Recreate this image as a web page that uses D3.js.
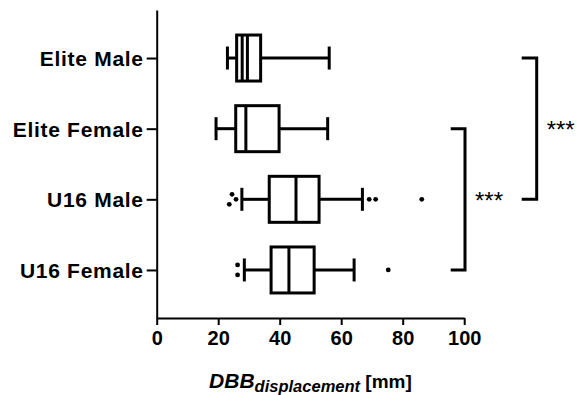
<!DOCTYPE html>
<html>
<head>
<meta charset="utf-8">
<script src="https://cdn.jsdelivr.net/npm/d3@7"></script>
<style>
  html, body { margin: 0; padding: 0; background: #fff; }
  svg { display: block; font-family: "Liberation Sans", Arial, sans-serif; }
</style>
</head>
<body>
<svg id="chart" width="577" height="395"></svg>
<script>
// ---- data ----
const categories   = ["Elite Male", "Elite Female", "U16 Male", "U16 Female"];
const whiskerLow   = [23.0, 19.3, 27.7, 28.5];
const q1           = [26.0, 25.7, 36.6, 37.2];
const medians      = [29.5, 29.0, 45.3, 43.0];
const extraLines   = [27.8, null, null, null];
const q3           = [33.8, 39.8, 52.8, 51.2];
const whiskerHigh  = [56.1, 55.6, 66.9, 64.2];
const outliers     = [[], [], [23.6, 24.5, 25.8, 69.1, 71.2, 86.2], [26.3, 26.3, 75.3]];
const xTicks       = [0, 20, 40, 60, 80, 100];
const compFrom     = ["Elite Male", "Elite Female"];
const compTo       = ["U16 Male", "U16 Female"];
const compLabels   = ["***", "***"];

// ---- layout ----
const svg = d3.select("#chart");
const x = d3.scaleLinear().domain([0, 100]).range([156.7, 464.2]);
const y = d3.scalePoint().domain(categories).range([10, 318]).padding(0.68);
const boxH = 46, capH = 23, sw = 3;

// axes
const xAxis = svg.append("g").attr("transform", "translate(0,318)")
  .call(d3.axisBottom(x).tickValues(xTicks).tickSize(7).tickSizeOuter(0).tickPadding(6));
xAxis.selectAll("path,line").attr("stroke", "#000").attr("stroke-width", 2);
xAxis.selectAll("text").attr("font-size", 20).attr("font-weight", "bold").attr("fill", "#000")
  .attr("font-family", "Liberation Sans, Arial, sans-serif");

const yAxis = svg.append("g").attr("transform", "translate(156.7,0)")
  .call(d3.axisLeft(y).tickSize(10).tickSizeOuter(0).tickPadding(3));
yAxis.selectAll("path,line").attr("stroke", "#000").attr("stroke-width", 2);
yAxis.selectAll("text").attr("font-size", 21).attr("font-weight", "bold").attr("fill", "#000")
  .attr("letter-spacing", 0.7).attr("dy", "0.36em")
  .attr("font-family", "Liberation Sans, Arial, sans-serif");

// boxes
const data = categories.map((c, i) => ({
  c, lo: whiskerLow[i], q1: q1[i], med: medians[i], extra: extraLines[i],
  q3: q3[i], hi: whiskerHigh[i], out: outliers[i]
}));

const g = svg.append("g").attr("stroke", "#000").attr("stroke-width", sw).attr("fill", "none");
data.forEach(d => {
  const cy = y(d.c);
  g.append("line").attr("x1", x(d.lo)).attr("x2", x(d.q1)).attr("y1", cy).attr("y2", cy);
  g.append("line").attr("x1", x(d.q3)).attr("x2", x(d.hi)).attr("y1", cy).attr("y2", cy);
  g.append("line").attr("x1", x(d.lo)).attr("x2", x(d.lo)).attr("y1", cy - capH / 2).attr("y2", cy + capH / 2);
  g.append("line").attr("x1", x(d.hi)).attr("x2", x(d.hi)).attr("y1", cy - capH / 2).attr("y2", cy + capH / 2);
  g.append("rect").attr("x", x(d.q1)).attr("y", cy - boxH / 2)
    .attr("width", x(d.q3) - x(d.q1)).attr("height", boxH).attr("fill", "#fff");
  g.append("line").attr("x1", x(d.med)).attr("x2", x(d.med)).attr("y1", cy - boxH / 2).attr("y2", cy + boxH / 2);
  if (d.extra != null) {
    g.append("line").attr("x1", x(d.extra)).attr("x2", x(d.extra)).attr("y1", cy - boxH / 2).attr("y2", cy + boxH / 2);
  }
  // outliers: collision-avoiding vertical spread
  const r = 2.4, minD = 6, step = 5;
  const placed = [];
  d.out.slice().sort((a, b) => b - a).forEach(v => {
    const px = x(v);
    const seq = [0, -step, step, -2 * step, 2 * step];
    for (const off of seq) {
      if (placed.every(p => Math.hypot(p.px - px, p.off - off) >= minD)) { placed.push({ px, off }); break; }
    }
  });
  const clusters = [];
  placed.sort((a, b) => a.px - b.px).forEach(p => {
    const last = clusters[clusters.length - 1];
    if (last && p.px - last[last.length - 1].px < minD) last.push(p); else clusters.push([p]);
  });
  clusters.forEach(cl => {
    const m = d3.mean(cl, p => p.off);
    cl.forEach(p => {
      svg.append("circle").attr("cx", p.px).attr("cy", cy + p.off - m).attr("r", r).attr("fill", "#000");
    });
  });
});

// significance brackets (first comparison is the outer one)
const bracketX = [[521.7, 536.7], [450.7, 465]];
compFrom.forEach((f, i) => {
  const y1 = y(f), y2 = y(compTo[i]);
  const [bx0, bx1] = bracketX[i];
  svg.append("path")
    .attr("d", `M${bx0},${y1}H${bx1}V${y2}H${bx0}`)
    .attr("fill", "none").attr("stroke", "#000").attr("stroke-width", sw);
  svg.append("text").attr("x", bx1 + 10).attr("y", (y1 + y2) / 2 + 9.5)
    .attr("font-size", 24).attr("fill", "#000").text(compLabels[i]);
});

// x title
const title = svg.append("text").attr("x", x(50)).attr("y", 388)
  .attr("text-anchor", "middle").attr("fill", "#000").attr("font-weight", "bold");
title.append("tspan").attr("font-style", "italic").attr("font-size", 21).text("DBB");
title.append("tspan").attr("font-style", "italic").attr("font-size", 16.5).attr("dy", 4).text("displacement");
title.append("tspan").attr("font-size", 19).attr("dy", -4).text(" [mm]");
</script>
</body>
</html>
